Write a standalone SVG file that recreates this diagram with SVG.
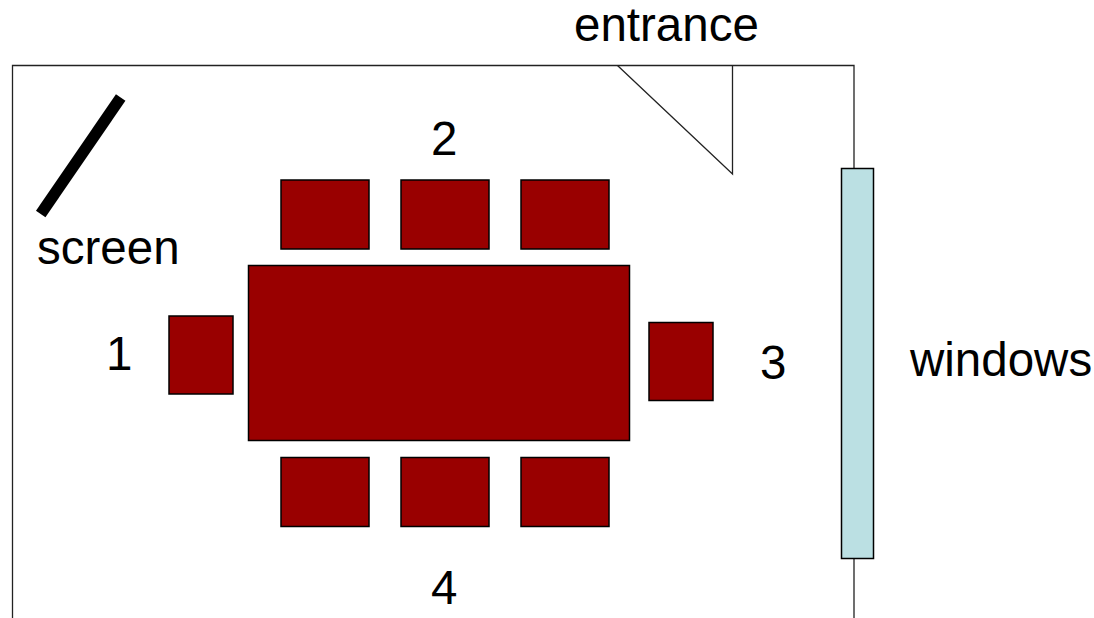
<svg xmlns="http://www.w3.org/2000/svg" width="1094" height="618" viewBox="0 0 1094 618">
<style>
.s{fill:#990000;stroke:#000;stroke-width:1.5}
.l{fill:none;stroke:#222;stroke-width:1.3}
text{font-family:"Liberation Sans",Arial,sans-serif;font-size:47.500px;fill:#000}
</style>
<rect width="1094" height="618" fill="#fff"/>
<g id="walls">
<path class="l" d="M12.500 618V65.500H854V618"/>
<path class="l" d="M617.500 65.500L732.500 174V65.500"/>
</g>
<line id="screen" x1="120.700" y1="97.500" x2="40.700" y2="214" stroke="#000" stroke-width="11.500"/>
<rect id="window" x="841.500" y="168.500" width="32" height="390" fill="#bbe0e3" stroke="#000" stroke-width="1.500"/>
<g id="table"><rect class="s" x="248.500" y="265.500" width="381" height="175"/></g>
<g id="seats">
<rect class="s" x="281" y="180" width="88" height="69"/>
<rect class="s" x="401" y="180" width="88" height="69"/>
<rect class="s" x="521" y="180" width="88" height="69"/>
<rect class="s" x="281" y="457.500" width="88" height="69"/>
<rect class="s" x="401" y="457.500" width="88" height="69"/>
<rect class="s" x="521" y="457.500" width="88" height="69"/>
<rect class="s" x="169" y="316" width="64" height="78"/>
<rect class="s" x="649" y="322.500" width="64" height="78"/>
</g>
<g id="labels">
<text x="574" y="41">entrance</text>
<text x="37" y="264">screen</text>
<text x="910" y="376">windows</text>
<text x="431" y="155">2</text>
<text x="106" y="370">1</text>
<text x="760" y="378.500">3</text>
<text x="431" y="604">4</text>
</g>
</svg>
